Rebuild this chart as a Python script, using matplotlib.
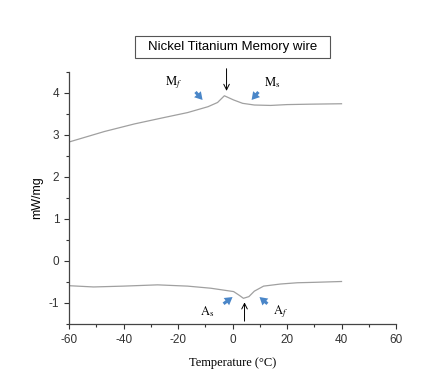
import numpy as np
import matplotlib.pyplot as plt
from matplotlib.patches import Rectangle

# cooling curve (upper) and heating curve (lower)
temp_cool = [-60, -47, -36, -26, -16.5, -9, -5.5, -3, 0.4, 3.7, 8, 14, 20, 28.5, 40]
flow_cool = [2.83, 3.08, 3.26, 3.40, 3.53, 3.67, 3.77, 3.93, 3.83, 3.75, 3.71, 3.70, 3.72, 3.73, 3.74]

temp_heat = [-60, -51, -40, -27.5, -16.5, -8, 0.4, 2.5, 4, 6, 8, 11.4, 17.6, 23.8, 30, 40]
flow_heat = [-0.59, -0.62, -0.60, -0.57, -0.60, -0.65, -0.73, -0.82, -0.89, -0.85, -0.72, -0.60, -0.55, -0.52, -0.51, -0.49]

x_ticks = [-60, -40, -20, 0, 20, 40, 60]
y_ticks = [-1, 0, 1, 2, 3, 4]

plt.rcParams['font.family'] = ['Liberation Sans', 'DejaVu Sans']
plt.rcParams['axes.unicode_minus'] = False
plt.rcParams['mathtext.fontset'] = 'stix'

fig = plt.figure(figsize=(4.4, 3.82), dpi=100)
ax = fig.add_axes([0.157, 0.152, 0.743, 0.66])

ax.plot(temp_cool, flow_cool, color='#a0a0a0', lw=0.9)
ax.plot(temp_heat, flow_heat, color='#a0a0a0', lw=0.9)

ax.set_xlim(-60, 60)
ax.set_ylim(-1.5, 4.5)
ax.set_xticks(x_ticks)
ax.set_yticks(y_ticks)
ax.set_xticks(np.arange(-50, 60, 20), minor=True)
ax.set_yticks(np.arange(-1.5, 4.6, 1.0), minor=True)
ax.tick_params(which='major', direction='out', length=3.5, width=0.8, labelsize=8.5, colors='#333333')
ax.tick_params(which='minor', direction='out', length=2, width=0.8, colors='#333333')
for s in ['top', 'right']:
    ax.spines[s].set_visible(False)
for s in ['left', 'bottom']:
    ax.spines[s].set_color('#444444')
    ax.spines[s].set_linewidth(0.9)

ax.set_ylabel('mW/mg', fontsize=9, labelpad=4)
ax.set_xlabel('Temperature (°C)', fontsize=9, family='Liberation Serif', labelpad=8)

blue = dict(facecolor='#4a86c8', edgecolor='none', width=2.2, headwidth=6.5, headlength=5.5)
black = dict(arrowstyle='->', color='black', lw=0.7)

# cooling peak
ax.annotate('', xy=(-11.0, 3.83), xytext=(-13.6, 4.02), arrowprops=blue)
ax.annotate('', xy=(7.0, 3.83), xytext=(9.5, 4.02), arrowprops=blue)
ax.annotate('', xy=(-2.2, 3.98), xytext=(-2.2, 4.64), arrowprops=black, annotation_clip=False)
ax.text(-21.6, 4.24, r'$\mathrm{M}_{f}$', fontsize=9, ha='center', va='center')
ax.text(14.7, 4.24, r'$\mathrm{M}_{\mathrm{s}}$', fontsize=9, ha='center', va='center')

# heating dip
ax.annotate('', xy=(0.0, -0.86), xytext=(-3.3, -1.02), arrowprops=blue)
ax.annotate('', xy=(9.9, -0.86), xytext=(12.8, -1.02), arrowprops=blue)
ax.annotate('', xy=(4.4, -0.92), xytext=(4.4, -1.5), arrowprops=black, annotation_clip=False)
ax.text(-9.2, -1.21, r'$\mathrm{A}_{\mathrm{s}}$', fontsize=9, ha='center', va='center')
ax.text(17.6, -1.21, r'$\mathrm{A}_{f}$', fontsize=9, ha='center', va='center')

# title box
fig.patches.append(Rectangle((135 / 440, 1 - 58 / 382), 195 / 440, 22 / 382, transform=fig.transFigure,
                             facecolor='white', edgecolor='#555555', lw=0.8))
fig.text(0.528, 1 - 47 / 382, 'Nickel Titanium Memory wire', fontsize=9.5, ha='center', va='center')

fig.savefig('out.png', dpi=100)
